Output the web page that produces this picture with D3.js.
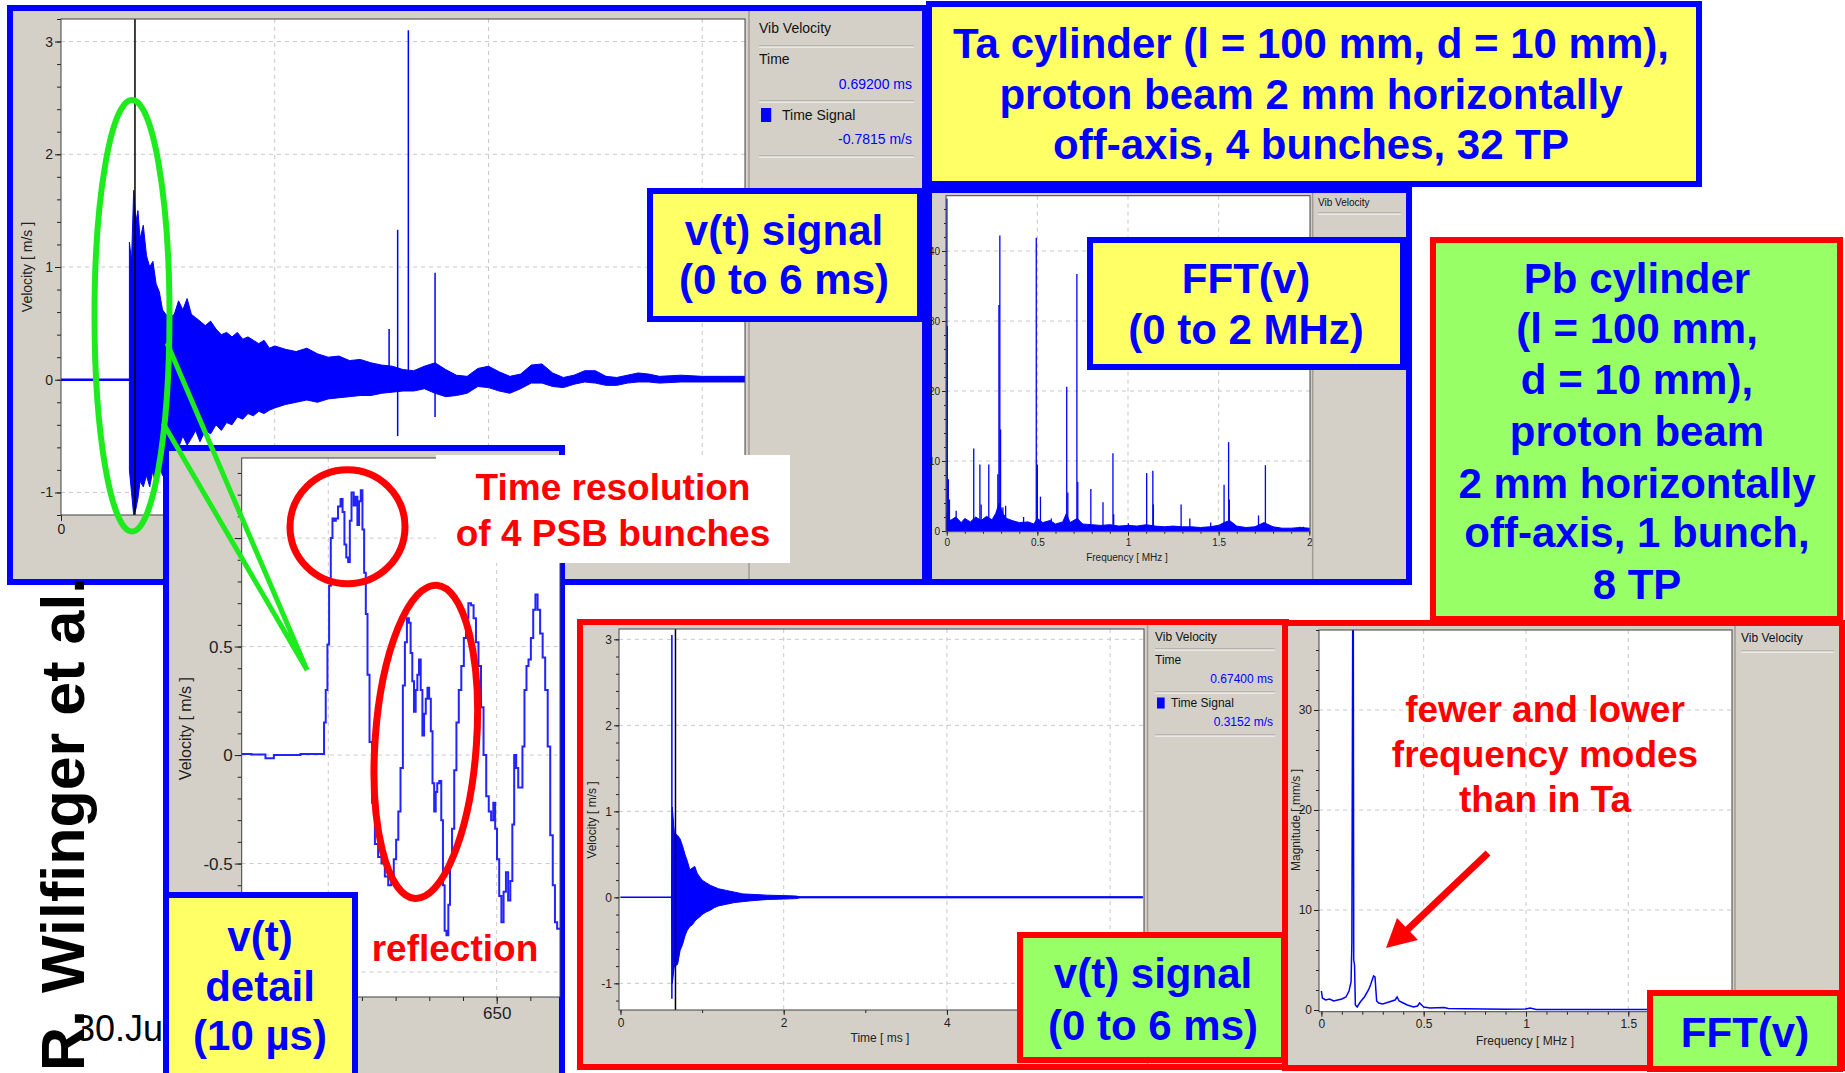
<!DOCTYPE html>
<html>
<head>
<meta charset="utf-8">
<script src="https://cdn.jsdelivr.net/npm/d3@7"></script>
<style>
  body { margin: 0; background: #fff; }
  svg { display: block; }
  text { font-family: "Liberation Sans", Arial, sans-serif; }
</style>
</head>
<body>
<script>
// ---------- data ----------

// Ta cylinder v(t), 0..6.4 ms : dense signal, kept as [t, lower, upper] envelope
const taEnvelope = [
  [0.64, -0.80, 1.22], [0.66, -1.00, 1.05], [0.68, -1.20, 1.68], [0.70, -1.15, 1.40],
  [0.72, -1.05, 1.50], [0.74, -0.90, 1.25], [0.77, -0.95, 1.37], [0.80, -0.85, 1.10],
  [0.83, -0.95, 1.00], [0.86, -0.80, 1.05], [0.89, -0.98, 0.85], [0.92, -0.75, 0.78],
  [0.95, -0.85, 0.62], [0.98, -0.60, 0.58], [1.02, -0.62, 0.55], [1.06, -0.55, 0.58],
  [1.10, -0.60, 0.70], [1.14, -0.50, 0.62], [1.18, -0.58, 0.72], [1.22, -0.52, 0.58],
  [1.26, -0.45, 0.55], [1.30, -0.55, 0.52], [1.35, -0.45, 0.48], [1.40, -0.48, 0.52],
  [1.45, -0.40, 0.45], [1.50, -0.45, 0.40], [1.55, -0.38, 0.42], [1.60, -0.40, 0.38],
  [1.65, -0.33, 0.42], [1.70, -0.35, 0.36], [1.75, -0.30, 0.38], [1.80, -0.32, 0.35],
  [1.85, -0.28, 0.32], [1.90, -0.30, 0.35], [1.95, -0.27, 0.28], [2.00, -0.25, 0.30],
  [2.10, -0.22, 0.27], [2.20, -0.20, 0.25], [2.30, -0.18, 0.28], [2.40, -0.20, 0.23],
  [2.50, -0.17, 0.20], [2.60, -0.16, 0.21], [2.70, -0.15, 0.17], [2.80, -0.14, 0.18],
  [2.90, -0.14, 0.15], [3.00, -0.12, 0.13], [3.10, -0.11, 0.12], [3.20, -0.10, 0.09],
  [3.30, -0.10, 0.08], [3.40, -0.08, 0.12], [3.50, -0.12, 0.15], [3.60, -0.15, 0.09],
  [3.70, -0.14, 0.04], [3.80, -0.12, 0.03], [3.90, -0.06, 0.10], [4.00, -0.07, 0.12],
  [4.10, -0.10, 0.07], [4.20, -0.12, 0.03], [4.30, -0.08, 0.05], [4.40, -0.03, 0.13],
  [4.50, -0.03, 0.14], [4.60, -0.06, 0.06], [4.70, -0.07, 0.02], [4.80, -0.04, 0.04],
  [4.90, -0.02, 0.08], [5.00, -0.03, 0.08], [5.10, -0.05, 0.03], [5.20, -0.05, 0.02],
  [5.30, -0.03, 0.04], [5.40, -0.02, 0.06], [5.50, -0.02, 0.05], [5.60, -0.03, 0.03],
  [5.80, -0.02, 0.04], [6.00, -0.02, 0.03], [6.20, -0.02, 0.03], [6.40, -0.02, 0.03]
];
const taSpikes = [[3.07, 0.00, 0.45], [3.15, -0.50, 1.33], [3.25, -0.02, 3.10], [3.50, -0.33, 0.95]];
const taCursor = 0.692;

// Ta FFT, 0..2 MHz : noise floor [f, level] and narrow modes [f, magnitude]
const taFloor = [
  [0.00, 2.5], [0.02, 1.5], [0.05, 2.0], [0.08, 1.2], [0.10, 1.8], [0.13, 1.3], [0.16, 2.0],
  [0.19, 1.5], [0.22, 2.1], [0.25, 1.6], [0.27, 2.5], [0.29, 4.0], [0.31, 2.5], [0.33, 1.8],
  [0.36, 1.5], [0.40, 1.2], [0.45, 1.3], [0.48, 1.0], [0.50, 1.8], [0.53, 1.2], [0.57, 1.5],
  [0.60, 1.0], [0.64, 1.3], [0.66, 2.5], [0.68, 1.2], [0.72, 1.8], [0.75, 1.0], [0.80, 0.9],
  [0.85, 0.8], [0.90, 0.9], [0.95, 0.7], [1.00, 0.8], [1.05, 0.7], [1.10, 0.9], [1.15, 0.7],
  [1.20, 0.6], [1.25, 0.7], [1.30, 0.6], [1.35, 0.6], [1.40, 0.5], [1.45, 0.6], [1.50, 0.8],
  [1.53, 1.2], [1.56, 1.5], [1.60, 0.7], [1.65, 0.5], [1.70, 0.6], [1.75, 1.2], [1.80, 0.6],
  [1.85, 0.4], [1.90, 0.4], [1.95, 0.5], [2.00, 0.4]
];
const taModes = [
  [0.001, 47.5], [0.003, 29.3], [0.009, 7.4], [0.015, 4.5], [0.052, 2.9], [0.149, 11.8],
  [0.183, 9.5], [0.190, 3.8], [0.232, 9.5], [0.282, 8.1], [0.288, 32.3], [0.293, 42.2],
  [0.297, 14.5], [0.310, 3.4], [0.325, 3.6], [0.424, 2.0], [0.494, 41.9], [0.500, 9.5],
  [0.517, 4.9], [0.577, 1.8], [0.662, 20.6], [0.668, 5.5], [0.718, 36.7], [0.723, 7.0],
  [0.795, 6.0], [0.862, 4.1], [0.917, 11.1], [0.921, 2.4], [1.002, 1.1], [1.103, 8.3],
  [1.137, 8.6], [1.140, 3.8], [1.293, 3.8], [1.341, 1.8], [1.456, 1.2], [1.530, 6.6],
  [1.555, 12.7], [1.559, 4.5], [1.720, 2.2], [1.758, 9.4], [1.948, 0.6], [1.967, 0.6]
];

// v(t) detail, 10 µs window [t µs, v m/s]
const detail = [
  [642.43, 0.005], [643.00, 0.003], [643.27, -0.015], [643.50, 0.0], [644.85, 0.005],
  [644.90, 0.15], [644.95, 0.30], [645.00, 0.51], [645.05, 0.78], [645.10, 1.00],
  [645.15, 1.09], [645.20, 1.08], [645.25, 1.09], [645.33, 1.145], [645.40, 1.18],
  [645.45, 1.12], [645.51, 0.97], [645.56, 0.91], [645.62, 0.89], [645.66, 1.08],
  [645.72, 1.21], [645.79, 1.15], [645.84, 1.19], [645.89, 1.06], [645.94, 1.17],
  [645.99, 1.22], [646.04, 1.04], [646.09, 0.84], [646.14, 0.65], [646.19, 0.37],
  [646.26, 0.06], [646.34, -0.22], [646.43, -0.41], [646.53, -0.47], [646.63, -0.50],
  [646.73, -0.56], [646.83, -0.60], [646.91, -0.57], [646.98, -0.48], [647.05, -0.39],
  [647.11, -0.26], [647.18, -0.06], [647.25, 0.32], [647.30, 0.52], [647.37, 0.63],
  [647.42, 0.61], [647.47, 0.47], [647.52, 0.34], [647.57, 0.20], [647.62, 0.30],
  [647.67, 0.37], [647.72, 0.44], [647.77, 0.30], [647.82, 0.09], [647.87, 0.19],
  [647.92, 0.26], [647.97, 0.31], [648.02, 0.26], [648.07, 0.11], [648.12, -0.13],
  [648.17, -0.26], [648.21, -0.17], [648.26, -0.13], [648.33, -0.12], [648.38, -0.30],
  [648.43, -0.60], [648.48, -0.81], [648.54, -0.83], [648.59, -0.69], [648.64, -0.50],
  [648.71, -0.34], [648.77, -0.07], [648.84, 0.15], [648.91, 0.30], [648.99, 0.41],
  [649.06, 0.54], [649.12, 0.63], [649.20, 0.70], [649.28, 0.69], [649.35, 0.63],
  [649.42, 0.52], [649.50, 0.41], [649.57, 0.22], [649.65, 0.00], [649.73, -0.19],
  [649.80, -0.26], [649.87, -0.30], [649.93, -0.22], [649.98, -0.34], [650.04, -0.48],
  [650.11, -0.65], [650.17, -0.77], [650.24, -0.63], [650.31, -0.54], [650.37, -0.67],
  [650.44, -0.58], [650.49, -0.32], [650.55, 0.00], [650.61, -0.06], [650.67, -0.15],
  [650.74, -0.15], [650.79, 0.04], [650.86, 0.30], [650.91, 0.41], [650.98, 0.44],
  [651.05, 0.54], [651.12, 0.67], [651.18, 0.74], [651.25, 0.67], [651.33, 0.56],
  [651.40, 0.45], [651.48, 0.30], [651.55, 0.04], [651.63, -0.37], [651.70, -0.60],
  [651.76, -0.77], [651.83, -0.80], [651.88, -0.80]
];

// Pb cylinder v(t) : [t, lower, upper]
const pbEnvelope = [
  [0.625, -0.01, 0.01], [0.635, -1.00, 1.05], [0.66, -0.80, 0.75], [0.70, -0.78, 0.72],
  [0.73, -0.62, 0.68], [0.76, -0.55, 0.60], [0.79, -0.45, 0.50], [0.82, -0.38, 0.42],
  [0.85, -0.34, 0.32], [0.88, -0.32, 0.34], [0.91, -0.28, 0.36], [0.94, -0.25, 0.28],
  [0.97, -0.23, 0.24], [1.00, -0.20, 0.20], [1.05, -0.17, 0.17], [1.10, -0.15, 0.14],
  [1.15, -0.12, 0.12], [1.20, -0.10, 0.10], [1.30, -0.08, 0.08], [1.40, -0.06, 0.06],
  [1.50, -0.05, 0.04], [1.60, -0.04, 0.035], [1.80, -0.025, 0.025], [2.00, -0.02, 0.02],
  [2.15, -0.015, 0.015], [2.20, -0.006, 0.006], [6.40, -0.006, 0.006]
];
const pbSpikes = [[0.63, -1.18, 3.05]];
const pbCursor = 0.674;

// Pb FFT [f MHz, magnitude mm/s]
const pbSpectrum = [
  [0.0, 1.9], [0.005, 1.2], [0.02, 1.0], [0.04, 1.1], [0.06, 0.9], [0.08, 1.0], [0.10, 1.1],
  [0.12, 1.3], [0.135, 1.9], [0.145, 2.8], [0.149, 6.8], [0.153, 38], [0.156, 38], [0.158, 5.0],
  [0.162, 4.5], [0.166, 0.5], [0.175, 0.3], [0.19, 0.8], [0.21, 1.3], [0.23, 2.0], [0.24, 2.5],
  [0.255, 3.4], [0.262, 3.3], [0.27, 0.9], [0.28, 0.7], [0.30, 0.6], [0.33, 0.8], [0.36, 1.0],
  [0.37, 1.3], [0.38, 0.9], [0.40, 0.7], [0.42, 0.5], [0.45, 0.3], [0.47, 0.4], [0.48, 0.7],
  [0.49, 0.5], [0.50, 0.3], [0.53, 0.2], [0.60, 0.25], [0.62, 0.15], [0.70, 0.12], [0.80, 0.1],
  [0.90, 0.08], [1.00, 0.1], [1.02, 0.2], [1.05, 0.06], [1.20, 0.05], [1.50, 0.04], [2.00, 0.04]
];

// tick values (labels listed separately where the slide hides some of them)
const timeTicks = [0, 2, 4, 6];
const velTicks = [-1, 0, 1, 2, 3];
const freqTicks = [0, 0.5, 1, 1.5, 2];
const taMagTicks = [0, 10, 20, 30, 40];
const pbMagTicks = [0, 10, 20, 30];
const detailTimeTicks = [645, 650];
const detailVelTicks = [-1, -0.5, 0, 0.5, 1];
const detailVelLabels = [-0.5, 0, 0.5];

// slide texts
const taTitle = ["Ta cylinder (l = 100 mm, d = 10 mm),", "proton beam 2 mm horizontally", "off-axis, 4 bunches, 32 TP"];
const pbTitle = ["Pb cylinder", "(l = 100 mm,", "d = 10 mm),", "proton beam", "2 mm horizontally", "off-axis, 1 bunch,", "8 TP"];
const signalLabel = ["v(t) signal", "(0 to 6 ms)"];
const fftLabel = ["FFT(v)", "(0 to 2 MHz)"];
const detailLabel = ["v(t)", "detail", "(10 µs)"];
const resolutionNote = ["Time resolution", "of 4 PSB bunches"];
const pbNote = ["fewer and lower", "frequency modes", "than in Ta"];

// ---------- drawing ----------
const W = 1845, H = 1073;
const GRAY = "#d4d0c8", BLUE = "#0000ff", RED = "#ff0000", YEL = "#ffff66", GRN = "#99ff66", LIME = "#1eeb1e";

const svg = d3.select("body").append("svg").attr("width", W).attr("height", H);
svg.append("rect").attr("width", W).attr("height", H).attr("fill", "#fff");
const defs = svg.append("defs");
let clipId = 0;

function box(b, fill, stroke) {
    svg.append("rect")
        .attr("x", b[0] + 3).attr("y", b[1] + 3)
        .attr("width", b[2] - b[0] - 6).attr("height", b[3] - b[1] - 6)
        .attr("fill", fill).attr("stroke", stroke).attr("stroke-width", 6);
}

function label(cx, baselines, strs, size, color) {
    const t = svg.append("text")
        .attr("text-anchor", "middle").attr("font-weight", "bold")
        .attr("font-size", size).attr("fill", color);
    strs.forEach((s, i) => t.append("tspan").attr("x", cx).attr("y", baselines[i]).text(s));
}

function styleAxis(sel, fs) {
    sel.select(".domain").remove();
    sel.attr("font-family", null).attr("font-size", fs);
    sel.selectAll("line").attr("stroke", "#222");
    sel.selectAll("text").attr("fill", "#222");
}

function minor(domain, step) {
    const lo = Math.ceil(domain[0] / step - 1e-6), hi = Math.floor(domain[1] / step + 1e-6);
    return d3.range(lo, hi + 1).map(k => +(k * step).toFixed(6));
}

function panel(c) {
    const [bx0, by0, bx1, by1] = c.box;
    const [pl, pt, pr, pb] = c.plot;
    const g = svg.append("g");
    g.append("rect")
        .attr("x", bx0 + 3).attr("y", by0 + 3)
        .attr("width", bx1 - bx0 - 6).attr("height", by1 - by0 - 6)
        .attr("fill", GRAY).attr("stroke", c.border).attr("stroke-width", 6);
    if (c.divider) {
        g.append("line").attr("x1", c.divider).attr("x2", c.divider)
            .attr("y1", by0 + 6).attr("y2", by1 - 6)
            .attr("stroke", "#a19d96").attr("stroke-width", 1.5);
    }
    g.append("rect").attr("x", pl).attr("y", pt)
        .attr("width", pr - pl).attr("height", pb - pt).attr("fill", "#fff");

    const x = d3.scaleLinear().domain(c.xDomain).range([pl, pr]);
    const y = d3.scaleLinear().domain(c.yDomain).range([pb, pt]);

    const grid = g.append("g").attr("stroke", "#c8c8c8").attr("stroke-dasharray", "4,4");
    grid.selectAll(null).data(c.xGrid).join("line")
        .attr("x1", d => x(d)).attr("x2", d => x(d)).attr("y1", pt).attr("y2", pb);
    grid.selectAll(null).data(c.yGrid).join("line")
        .attr("y1", d => y(d)).attr("y2", d => y(d)).attr("x1", pl).attr("x2", pr);

    const yl = c.yLabels || c.yTicks;
    const xl = c.xLabels || c.xTicks;
    g.append("g").attr("transform", `translate(${pl},0)`)
        .call(d3.axisLeft(y).tickValues(minor(c.yDomain, c.yMinor)).tickSize(c.tick[1]).tickFormat(""))
        .call(styleAxis, c.fs);
    const ya = g.append("g").attr("transform", `translate(${pl},0)`)
        .call(d3.axisLeft(y).tickValues(c.yTicks).tickSize(c.tick[0]).tickPadding(2).tickFormat(d => String(d)))
        .call(styleAxis, c.fs);
    ya.selectAll(".tick text").filter(d => !yl.includes(d)).remove();
    g.append("g").attr("transform", `translate(0,${pb})`)
        .call(d3.axisBottom(x).tickValues(minor(c.xDomain, c.xMinor)).tickSize(c.tick[1]).tickFormat(""))
        .call(styleAxis, c.fs);
    const xa = g.append("g").attr("transform", `translate(0,${pb})`)
        .call(d3.axisBottom(x).tickValues(c.xTicks).tickSize(c.tick[0]).tickPadding(3).tickFormat(d => String(d)))
        .call(styleAxis, c.fs);
    xa.selectAll(".tick text").filter(d => !xl.includes(d)).remove();

    if (c.yTitle) {
        g.append("text").attr("transform", `translate(${c.yTitle[0]},${c.yTitle[1]}) rotate(-90)`)
            .attr("text-anchor", "middle").attr("dy", "0.35em")
            .attr("font-size", c.titleFs || c.fs).attr("fill", "#222").text(c.yTitle[2]);
    }
    if (c.xTitle) {
        g.append("text").attr("x", c.xTitle[0]).attr("y", c.xTitle[1])
            .attr("text-anchor", "middle").attr("dy", "0.35em")
            .attr("font-size", c.titleFs || c.fs).attr("fill", "#222").text(c.xTitle[2]);
    }

    const id = "clip" + (clipId++);
    defs.append("clipPath").attr("id", id).append("rect")
        .attr("x", pl).attr("y", pt).attr("width", pr - pl).attr("height", pb - pt);
    const marks = g.append("g").attr("clip-path", `url(#${id})`);

    g.append("rect").attr("x", pl).attr("y", pt)
        .attr("width", pr - pl).attr("height", pb - pt)
        .attr("fill", "none").attr("stroke", "#404040").attr("stroke-width", 1);

    return { g, marks, x, y, pt, pb };
}

function legend(g, rows, x0, x1, fs) {
    rows.forEach(r => {
        if (r.sep !== undefined) {
            g.append("line").attr("x1", x0).attr("x2", x1).attr("y1", r.sep).attr("y2", r.sep).attr("stroke", "#9c988f");
            g.append("line").attr("x1", x0).attr("x2", x1).attr("y1", r.sep + 1).attr("y2", r.sep + 1).attr("stroke", "#fff");
        } else {
            g.append("text").attr("x", r.right ? x1 - 2 : x0 + (r.indent || 0)).attr("y", r.y)
                .attr("dy", "0.35em").attr("text-anchor", r.right ? "end" : "start")
                .attr("font-size", fs).attr("fill", r.color || "#111").text(r.text);
            if (r.swatch) {
                g.append("rect").attr("x", x0 + 2).attr("y", r.y - r.swatch / 2 - 1)
                    .attr("width", r.swatch * 0.85).attr("height", r.swatch + 2).attr("fill", BLUE);
            }
        }
    });
}

function envelope(p, rows) {
    p.marks.append("path").datum(rows)
        .attr("d", d3.area().x(d => p.x(d[0])).y0(d => p.y(d[1])).y1(d => p.y(d[2])))
        .attr("fill", BLUE).attr("stroke", BLUE).attr("stroke-width", 1);
}

function spikes(p, rows, w) {
    p.marks.selectAll(null).data(rows).join("line")
        .attr("x1", d => p.x(d[0])).attr("x2", d => p.x(d[0]))
        .attr("y1", d => p.y(d[1])).attr("y2", d => p.y(d[2]))
        .attr("stroke", BLUE).attr("stroke-width", w);
}

function cursor(p, t) {
    p.marks.append("line").attr("x1", p.x(t)).attr("x2", p.x(t)).attr("y1", p.pt).attr("y2", p.pb)
        .attr("stroke", "#000").attr("stroke-width", 1.5);
}

// --- Ta v(t) panel
const pA = panel({
    box: [7, 5, 928, 585], border: BLUE, plot: [61, 19, 745, 515], divider: 749,
    xDomain: [0, 6.4], yDomain: [-1.2, 3.2], xTicks: timeTicks, xLabels: [0], xMinor: 1,
    yTicks: velTicks, yMinor: 0.2, xGrid: [2, 4, 6], yGrid: velTicks,
    fs: 14, tick: [6, 4], yTitle: [27, 267, "Velocity [ m/s ]"]
});
pA.marks.append("line").attr("x1", pA.x(0)).attr("x2", pA.x(taEnvelope[0][0]))
    .attr("y1", pA.y(0)).attr("y2", pA.y(0)).attr("stroke", BLUE).attr("stroke-width", 2.5);
envelope(pA, taEnvelope);
spikes(pA, taSpikes, 1.5);
cursor(pA, taCursor);
legend(pA.g, [
    { text: "Vib Velocity", y: 28 }, { sep: 46 },
    { text: "Time", y: 59 }, { text: "0.69200 ms", y: 84, right: true, color: BLUE }, { sep: 101 },
    { text: "Time Signal", y: 115, indent: 23, swatch: 12 },
    { text: "-0.7815 m/s", y: 139, right: true, color: BLUE }, { sep: 156 }
], 759, 914, 14);

// --- Ta title
box([926, 1, 1702, 187], YEL, BLUE);
label(1311, [58, 109, 159], taTitle, 42, BLUE);

// --- Ta FFT panel
const pB = panel({
    box: [926, 187, 1412, 585], border: BLUE, plot: [946, 195.7, 1310, 531.7], divider: 1312.7,
    xDomain: [-0.004, 2.004], yDomain: [-0.1, 47.9], xTicks: freqTicks, xMinor: 0.1,
    yTicks: taMagTicks, yMinor: 2, xGrid: [0.5, 1, 1.5], yGrid: [10, 20, 30, 40],
    fs: 10, tick: [4, 2], xTitle: [1127, 557.7, "Frequency [ MHz ]"]
});
pB.marks.append("path").datum(taFloor)
    .attr("d", d3.area().x(d => pB.x(d[0])).y0(pB.y(0)).y1(d => pB.y(d[1])))
    .attr("fill", BLUE).attr("stroke", BLUE).attr("stroke-width", 1);
pB.marks.selectAll(null).data(taModes).join("line")
    .attr("x1", d => pB.x(d[0])).attr("x2", d => pB.x(d[0]))
    .attr("y1", pB.y(0)).attr("y2", d => pB.y(d[1]))
    .attr("stroke", BLUE).attr("stroke-width", 1.3);
legend(pB.g, [{ text: "Vib Velocity", y: 202 }, { sep: 213 }], 1318, 1401, 10);

box([1087, 237, 1406, 370], YEL, BLUE);
label(1246, [293, 344], fftLabel, 42, BLUE);

box([647, 188, 923, 322], YEL, BLUE);
label(784, [244.5, 294], signalLabel, 42, BLUE);

// --- Pb title
box([1430, 237, 1843, 622], GRN, RED);
label(1637, [293, 342.5, 394, 446, 497.5, 547, 599], pbTitle, 42, BLUE);

// date, partly hidden by the detail panel
svg.append("text").attr("x", 75).attr("y", 1041).attr("font-size", 36).attr("fill", "#000").text("30.Ju");

// --- v(t) detail panel
const pC = panel({
    box: [163, 445, 565, 1095], border: BLUE, plot: [241.7, 458, 560, 997],
    xDomain: [642.43, 651.88], yDomain: [-1.115, 1.369], xTicks: detailTimeTicks, xLabels: [650], xMinor: 1,
    yTicks: detailVelTicks, yLabels: detailVelLabels, yMinor: 0.1,
    xGrid: detailTimeTicks, yGrid: detailVelTicks,
    fs: 17, titleFs: 16, tick: [7, 4], yTitle: [185, 728.6, "Velocity [ m/s ]"]
});
pC.marks.append("path").datum(detail)
    .attr("d", d3.line().x(d => pC.x(d[0])).y(d => pC.y(d[1])).curve(d3.curveStep))
    .attr("fill", "none").attr("stroke", "#2323ff").attr("stroke-width", 2);

// green zoom marker
svg.append("ellipse").attr("cx", 132).attr("cy", 315.75).attr("rx", 37.5).attr("ry", 215.75)
    .attr("fill", "none").attr("stroke", LIME).attr("stroke-width", 6);
svg.append("path").attr("d", "M167,343 L307,670 L163,423")
    .attr("fill", "none").attr("stroke", LIME).attr("stroke-width", 5).attr("stroke-linejoin", "miter");

// time-resolution note
svg.append("rect").attr("x", 436).attr("y", 455).attr("width", 354).attr("height", 108).attr("fill", "#fff");
label(613, [500, 545.5], resolutionNote, 37, RED);

svg.append("ellipse").attr("cx", 347.5).attr("cy", 526.8).attr("rx", 57.5).attr("ry", 57)
    .attr("fill", "none").attr("stroke", RED).attr("stroke-width", 7);
svg.append("ellipse").attr("transform", "translate(425.8,741.8) rotate(4)").attr("rx", 50.7).attr("ry", 157)
    .attr("fill", "none").attr("stroke", RED).attr("stroke-width", 7);
label(455, [961], ["reflection"], 37, RED);

box([163, 892, 358, 1095], YEL, BLUE);
label(260, [950.7, 1000.5, 1050], detailLabel, 42, BLUE);

// --- Pb v(t) panel
const pD = panel({
    box: [577, 619, 1289, 1070], border: RED, plot: [619, 629, 1144, 1010], divider: 1147.6,
    xDomain: [-0.018, 6.415], yDomain: [-1.31, 3.12], xTicks: timeTicks, xLabels: [0, 2, 4], xMinor: 1,
    yTicks: velTicks, yMinor: 0.2, xGrid: [2, 4, 6], yGrid: velTicks,
    fs: 12, tick: [5, 3], yTitle: [592, 820, "Velocity [ m/s ]"], xTitle: [880, 1038, "Time [ ms ]"]
});
pD.marks.append("line").attr("x1", pD.x(0)).attr("x2", pD.x(6.4))
    .attr("y1", pD.y(0)).attr("y2", pD.y(0)).attr("stroke", BLUE).attr("stroke-width", 1.5);
envelope(pD, pbEnvelope);
spikes(pD, pbSpikes, 1.5);
cursor(pD, pbCursor);
legend(pD.g, [
    { text: "Vib Velocity", y: 637 }, { sep: 649 },
    { text: "Time", y: 660 }, { text: "0.67400 ms", y: 679, right: true, color: BLUE }, { sep: 692 },
    { text: "Time Signal", y: 703, indent: 16, swatch: 9 },
    { text: "0.3152 m/s", y: 722, right: true, color: BLUE }, { sep: 735 }
], 1155, 1275, 12);

// --- Pb FFT panel
const pE = panel({
    box: [1282, 620, 1845, 1071], border: RED, plot: [1319, 630, 1732, 1011.7], divider: 1735,
    xDomain: [-0.0117, 2.007], yDomain: [-0.17, 38], xTicks: freqTicks, xLabels: [0, 0.5, 1, 1.5], xMinor: 0.1,
    yTicks: pbMagTicks, yMinor: 2, xGrid: [0.5, 1, 1.5], yGrid: [10, 20, 30],
    fs: 12, tick: [5, 3], yTitle: [1296, 820, "Magnitude [ mm/s ]"], xTitle: [1525, 1040.7, "Frequency [ MHz ]"]
});
pE.marks.append("path").datum(pbSpectrum)
    .attr("d", d3.line().x(d => pE.x(d[0])).y(d => pE.y(d[1])))
    .attr("fill", "none").attr("stroke", BLUE).attr("stroke-width", 1.5);
legend(pE.g, [{ text: "Vib Velocity", y: 638 }, { sep: 651 }], 1741, 1834, 12);

box([1017, 932, 1287, 1063], GRN, RED);
label(1153, [988, 1040], signalLabel, 42, BLUE);

box([1647, 990, 1843, 1072], GRN, RED);
label(1745, [1046.7], ["FFT(v)"], 42, BLUE);

// Pb note and arrow
label(1545, [721.7, 766.7, 811.7], pbNote, 37, RED);
svg.append("line").attr("x1", 1488).attr("y1", 853).attr("x2", 1405).attr("y2", 932)
    .attr("stroke", RED).attr("stroke-width", 7);
svg.append("path").attr("d", "M1386,948 L1397,918 L1418,940 Z").attr("fill", RED);

// author, rotated along the left edge
svg.append("text").attr("transform", "translate(84,1071) rotate(-90)")
    .attr("font-size", 61).attr("font-weight", "bold").attr("fill", "#000")
    .text("R. Wilfinger et al.");
</script>
</body>
</html>
